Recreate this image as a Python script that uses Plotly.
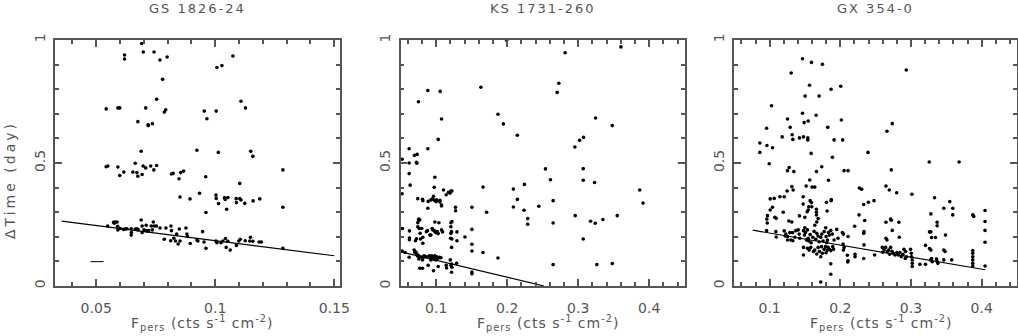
import plotly.graph_objects as go
from plotly.subplots import make_subplots

# ---- GS 1826-24 ----
gs_x = [0.0691, 0.0698, 0.0743, 0.0619, 0.0619, 0.0768, 0.0798, 0.1074, 0.1007, 0.1028,
        0.0779, 0.0754, 0.1108, 0.0542, 0.0591, 0.0599, 0.0708, 0.0792, 0.0786, 0.0954,
        0.1004, 0.1127, 0.0965, 0.0675, 0.0718, 0.0719, 0.0736, 0.0689, 0.0923, 0.1013,
        0.1149, 0.1158,
        0.0542, 0.0549, 0.0591, 0.0599, 0.0616, 0.0654, 0.0664, 0.0671, 0.0675, 0.0693,
        0.0697, 0.0708, 0.0729, 0.0742, 0.0754, 0.0816, 0.0823, 0.0848, 0.0855, 0.0867,
        0.0960, 0.1103, 0.1284,
        0.0852, 0.0894, 0.0934, 0.0961, 0.1003, 0.1004, 0.1014, 0.1039, 0.1042, 0.1053,
        0.1048, 0.1088, 0.1089, 0.1103, 0.1108, 0.1124, 0.1159, 0.1187, 0.1284,
        0.0573, 0.0580, 0.0588, 0.0548, 0.0576, 0.0590, 0.0591, 0.0601, 0.0615, 0.0622,
        0.0629, 0.0647, 0.0648, 0.0647, 0.0664, 0.0671, 0.0676, 0.0689, 0.0693, 0.0693,
        0.0701, 0.0710, 0.0712, 0.0721, 0.0731, 0.0736, 0.0740, 0.0743, 0.0753, 0.0768,
        0.0786, 0.0793, 0.0814, 0.0816, 0.0813, 0.0826, 0.0833, 0.0838, 0.0844, 0.0849,
        0.0852, 0.0877, 0.0881, 0.0883, 0.0895, 0.0923, 0.0927, 0.0947, 0.0953, 0.0961,
        0.1003, 0.1007, 0.1024, 0.1032, 0.1043, 0.1046, 0.1053, 0.1063, 0.1089, 0.1099,
        0.1105, 0.1126, 0.1145, 0.1148, 0.1158, 0.1184, 0.1194, 0.1284]
gs_y = [0.986, 0.951, 0.951, 0.939, 0.923, 0.919, 0.931, 0.935, 0.888, 0.896,
        0.840, 0.759, 0.751, 0.720, 0.724, 0.724, 0.724, 0.716, 0.707, 0.711,
        0.711, 0.724, 0.680, 0.668, 0.655, 0.652, 0.660, 0.548, 0.552, 0.543,
        0.548, 0.527,
        0.485, 0.488, 0.484, 0.449, 0.463, 0.463, 0.499, 0.461, 0.446, 0.453,
        0.488, 0.480, 0.488, 0.472, 0.490, 0.455, 0.458, 0.436, 0.461, 0.467,
        0.444, 0.417, 0.472,
        0.362, 0.354, 0.377, 0.299, 0.370, 0.356, 0.335, 0.359, 0.352, 0.360,
        0.312, 0.355, 0.339, 0.355, 0.350, 0.336, 0.346, 0.354, 0.320,
        0.259, 0.260, 0.260, 0.244, 0.255, 0.243, 0.228, 0.234, 0.230, 0.232,
        0.233, 0.233, 0.217, 0.207, 0.232, 0.233, 0.228, 0.268, 0.244, 0.217,
        0.228, 0.247, 0.224, 0.225, 0.244, 0.228, 0.260, 0.244, 0.244, 0.236,
        0.190, 0.236, 0.244, 0.225, 0.184, 0.194, 0.183, 0.211, 0.171, 0.232,
        0.183, 0.236, 0.211, 0.201, 0.173, 0.187, 0.183, 0.221, 0.179, 0.153,
        0.183, 0.176, 0.176, 0.183, 0.193, 0.157, 0.182, 0.146, 0.165, 0.183,
        0.190, 0.184, 0.183, 0.198, 0.182, 0.179, 0.179, 0.153]
gs_fit_x = [0.0355, 0.150]
gs_fit_y = [0.264, 0.123]
gs_err_x = [0.0476, 0.0531]
gs_err_y = [0.099, 0.099]

# ---- KS 1731-260 ----
ks_x = [0.1993, 0.2816, 0.3602, 0.0882, 0.1056, 0.1630, 0.2727, 0.2704, 0.0750, 0.1075,
        0.1870, 0.1946, 0.3245, 0.3480, 0.2143, 0.1028, 0.3075, 0.3019, 0.2953, 0.0619,
        0.0882, 0.0520, 0.0694, 0.0732, 0.0619, 0.0722, 0.0727,
        0.0619, 0.0520, 0.0633, 0.0981, 0.0972, 0.0741, 0.0807, 0.0812, 0.0882, 0.0887,
        0.0925, 0.0948, 0.0962, 0.0976, 0.1000, 0.1005, 0.1052, 0.1052, 0.1075, 0.1075,
        0.1103, 0.1141, 0.1174, 0.1193, 0.1207, 0.1221, 0.1273, 0.1273, 0.1503, 0.1659,
        0.1710,
        0.0525, 0.0520, 0.0623, 0.0623, 0.0623, 0.0619, 0.0708, 0.0722, 0.0741, 0.0750,
        0.0755, 0.0769, 0.0741, 0.0760, 0.0774, 0.0779, 0.0797, 0.0812, 0.0812, 0.0863,
        0.0878, 0.0911, 0.0925, 0.0943, 0.0953, 0.0976, 0.0981, 0.0986, 0.0995, 0.1014,
        0.1028, 0.1038, 0.1075, 0.1089, 0.1207, 0.1221, 0.1207, 0.1216, 0.1207, 0.1202,
        0.1221, 0.1292, 0.1292, 0.1216, 0.1405, 0.1503, 0.1503, 0.1503, 0.1659, 0.1870,
        0.0562, 0.0689, 0.0699, 0.0713, 0.0727, 0.0736, 0.0746, 0.0755, 0.0765, 0.0769,
        0.0793, 0.0807, 0.0807, 0.0821, 0.0830, 0.0863, 0.0887, 0.0901, 0.0915, 0.0925,
        0.0939, 0.0948, 0.0958, 0.0962, 0.0972, 0.0981, 0.0991, 0.1000, 0.1009, 0.1023,
        0.1028, 0.1047, 0.1066, 0.1141, 0.1146, 0.1198, 0.1207, 0.1216, 0.1221, 0.1216,
        0.1287, 0.1503, 0.1503,
        0.2539, 0.2609, 0.3071, 0.3071, 0.3231, 0.2242, 0.2087, 0.2143, 0.2087, 0.2238,
        0.2289, 0.2289, 0.2445, 0.2647, 0.2647, 0.2958, 0.3174, 0.3240, 0.3348, 0.3550,
        0.3071, 0.3866, 0.3913, 0.2647, 0.3263, 0.3480]
ks_y = [0.998, 0.948, 0.972, 0.795, 0.791, 0.808, 0.824, 0.787, 0.749, 0.679,
        0.698, 0.659, 0.683, 0.652, 0.613, 0.596, 0.604, 0.592, 0.565, 0.558,
        0.558, 0.515, 0.531, 0.535, 0.500, 0.503, 0.499,
        0.457, 0.375, 0.410, 0.442, 0.401, 0.355, 0.352, 0.347, 0.316, 0.344,
        0.350, 0.354, 0.365, 0.348, 0.343, 0.350, 0.348, 0.341, 0.329, 0.325,
        0.390, 0.371, 0.381, 0.377, 0.386, 0.386, 0.320, 0.306, 0.320, 0.402,
        0.300,
        0.234, 0.142, 0.224, 0.195, 0.188, 0.117, 0.184, 0.192, 0.257, 0.268,
        0.272, 0.268, 0.241, 0.234, 0.214, 0.191, 0.234, 0.198, 0.174, 0.221,
        0.225, 0.207, 0.207, 0.234, 0.228, 0.224, 0.260, 0.221, 0.217, 0.221,
        0.213, 0.257, 0.228, 0.220, 0.257, 0.262, 0.241, 0.221, 0.214, 0.194,
        0.191, 0.220, 0.184, 0.157, 0.199, 0.230, 0.170, 0.142, 0.136, 0.114,
        0.136, 0.146, 0.136, 0.138, 0.130, 0.122, 0.125, 0.110, 0.119, 0.072,
        0.118, 0.106, 0.072, 0.117, 0.123, 0.119, 0.084, 0.123, 0.114, 0.106,
        0.123, 0.112, 0.119, 0.062, 0.108, 0.123, 0.114, 0.106, 0.119, 0.112,
        0.079, 0.117, 0.115, 0.084, 0.073, 0.106, 0.084, 0.089, 0.076, 0.056,
        0.092, 0.057, 0.050,
        0.476, 0.432, 0.477, 0.430, 0.421, 0.413, 0.394, 0.352, 0.321, 0.308,
        0.274, 0.251, 0.324, 0.347, 0.256, 0.286, 0.263, 0.255, 0.270, 0.286,
        0.191, 0.390, 0.337, 0.087, 0.087, 0.091]
ks_fit_x = [0.050, 0.252]
ks_fit_y = [0.139, 0.0]

# ---- GX 354-0 ----
gx_x = [0.1465, 0.1592, 0.1747, 0.2933, 0.1305, 0.1564, 0.1869, 0.2006, 0.1502, 0.1700,
        0.1027, 0.1465, 0.1658, 0.1253, 0.1545, 0.1488, 0.2015, 0.2735, 0.0957, 0.1291,
        0.1822, 0.2660, 0.1319, 0.1178, 0.1328, 0.1422, 0.1479, 0.1540, 0.1540, 0.1912,
        0.2034, 0.0862, 0.0961, 0.1041, 0.0862, 0.1587, 0.2392, 0.1888, 0.0994, 0.3258,
        0.3681,
        0.1277, 0.1253, 0.1342, 0.1662, 0.1737, 0.1568, 0.2053, 0.2110, 0.2721, 0.1832,
        0.1314, 0.1333, 0.1248, 0.1206, 0.1145, 0.1065, 0.1008, 0.1517, 0.1601, 0.1639,
        0.1474, 0.1573, 0.1592, 0.1474, 0.1554, 0.1596, 0.1662, 0.1662, 0.1662, 0.1804,
        0.1874, 0.1870, 0.1813, 0.1531, 0.1545, 0.1041, 0.1008, 0.1192, 0.0970, 0.0961,
        0.1074, 0.1093, 0.0966, 0.1272, 0.1314, 0.1422, 0.1498, 0.1498, 0.1639, 0.1667,
        0.1686, 0.2269, 0.2302, 0.2397, 0.2331, 0.2477, 0.2345, 0.2265, 0.2203, 0.2335,
        0.2331, 0.2646, 0.2693, 0.2797, 0.3013, 0.3333, 0.3281, 0.3549, 0.3464, 0.3591,
        0.3591, 0.2712, 0.2721, 0.2646, 0.2829, 0.2735, 0.3370, 0.3370, 0.3262, 0.3281,
        0.3291, 0.3488, 0.2834, 0.3874, 0.3888, 0.4048, 0.4048, 0.4048, 0.4048, 0.4048,
        0.3206, 0.3262, 0.3281, 0.3483, 0.3464, 0.3874, 0.3874, 0.3874, 0.3874, 0.3874,
        0.3874, 0.2646, 0.2660, 0.3347,
        0.0957, 0.1088, 0.1093, 0.1206, 0.1220, 0.1230, 0.1253, 0.1253, 0.1286, 0.1300,
        0.1324, 0.1328, 0.1356, 0.1370, 0.1404, 0.1418, 0.1427, 0.1479, 0.1493, 0.1507,
        0.1521, 0.1535, 0.1545, 0.1554, 0.1573, 0.1587, 0.1611, 0.1629, 0.1653, 0.1667,
        0.1686, 0.1700, 0.1724, 0.1738, 0.1756, 0.1771, 0.1794, 0.1799, 0.1808, 0.1818,
        0.1832, 0.1846, 0.1865, 0.1888, 0.1912, 0.1949, 0.1968, 0.2029, 0.2044, 0.2110,
        0.1479, 0.1479, 0.1535, 0.1559, 0.1582, 0.1620, 0.1639, 0.1667, 0.1686, 0.1705,
        0.1724, 0.1733, 0.1747, 0.1771, 0.1790, 0.1799, 0.1818, 0.1827, 0.1846, 0.1865,
        0.1865, 0.1865, 0.1893, 0.1903, 0.1724, 0.2039, 0.2044, 0.2053, 0.2100, 0.2110,
        0.2105, 0.2208, 0.2208, 0.2331, 0.2335, 0.2486, 0.2594, 0.2618, 0.2599, 0.2641,
        0.2665, 0.2684, 0.2698, 0.2712, 0.2731, 0.2750, 0.2773, 0.2801, 0.2820, 0.2844,
        0.2862, 0.2886, 0.2900, 0.2919, 0.2924, 0.2938, 0.2994, 0.3004, 0.3008, 0.3018,
        0.3018, 0.3018, 0.3126, 0.3206, 0.3276, 0.3291, 0.3300, 0.3361, 0.3370, 0.3380,
        0.3464, 0.3577]
gx_y = [0.924, 0.909, 0.901, 0.878, 0.866, 0.816, 0.800, 0.812, 0.772, 0.772,
        0.733, 0.702, 0.694, 0.679, 0.671, 0.664, 0.675, 0.660, 0.641, 0.645,
        0.645, 0.629, 0.615, 0.606, 0.596, 0.602, 0.606, 0.602, 0.594, 0.594,
        0.594, 0.581, 0.571, 0.562, 0.543, 0.539, 0.543, 0.523, 0.497, 0.504,
        0.504,
        0.482, 0.469, 0.465, 0.465, 0.485, 0.431, 0.469, 0.469, 0.472, 0.430,
        0.404, 0.390, 0.386, 0.363, 0.363, 0.356, 0.354, 0.406, 0.402, 0.402,
        0.363, 0.347, 0.339, 0.333, 0.322, 0.322, 0.312, 0.300, 0.289, 0.340,
        0.351, 0.347, 0.305, 0.302, 0.309, 0.320, 0.309, 0.300, 0.286, 0.272,
        0.279, 0.275, 0.256, 0.264, 0.260, 0.285, 0.279, 0.237, 0.247, 0.260,
        0.274, 0.398, 0.393, 0.340, 0.331, 0.347, 0.266, 0.289, 0.243, 0.221,
        0.214, 0.406, 0.390, 0.379, 0.373, 0.359, 0.293, 0.343, 0.316, 0.316,
        0.289, 0.272, 0.267, 0.259, 0.259, 0.226, 0.259, 0.245, 0.220, 0.220,
        0.197, 0.207, 0.198, 0.289, 0.283, 0.307, 0.262, 0.226, 0.178, 0.081,
        0.165, 0.152, 0.146, 0.140, 0.146, 0.144, 0.133, 0.119, 0.106, 0.092,
        0.081, 0.194, 0.187, 0.197,
        0.225, 0.221, 0.199, 0.224, 0.203, 0.211, 0.201, 0.187, 0.217, 0.187,
        0.217, 0.184, 0.198, 0.225, 0.228, 0.211, 0.194, 0.225, 0.207, 0.217,
        0.187, 0.228, 0.194, 0.183, 0.209, 0.176, 0.198, 0.222, 0.190, 0.214,
        0.203, 0.180, 0.198, 0.211, 0.183, 0.221, 0.237, 0.201, 0.176, 0.187,
        0.217, 0.207, 0.226, 0.211, 0.187, 0.230, 0.194, 0.217, 0.211, 0.201,
        0.157, 0.126, 0.153, 0.146, 0.157, 0.140, 0.146, 0.130, 0.157, 0.140,
        0.119, 0.160, 0.133, 0.149, 0.160, 0.135, 0.146, 0.157, 0.149, 0.144,
        0.090, 0.048, 0.160, 0.149, 0.016, 0.171, 0.146, 0.157, 0.125, 0.102,
        0.098, 0.129, 0.119, 0.112, 0.167, 0.126, 0.157, 0.146, 0.137, 0.157,
        0.140, 0.146, 0.129, 0.157, 0.141, 0.133, 0.126, 0.136, 0.126, 0.136,
        0.119, 0.129, 0.149, 0.112, 0.140, 0.119, 0.149, 0.133, 0.119, 0.106,
        0.092, 0.079, 0.088, 0.088, 0.106, 0.112, 0.099, 0.110, 0.100, 0.092,
        0.106, 0.106]
gx_fit_x = [0.076, 0.405]
gx_fit_y = [0.227, 0.066]

# labelled (major) ticks
gs_ticks = [0.05, 0.10, 0.15]
gs_ticktext = ["0.05", "0.1", "0.15"]
wide_ticks = [0.1, 0.2, 0.3, 0.4]
wide_ticktext = ["0.1", "0.2", "0.3", "0.4"]
y_ticks = [0.0, 0.5, 1.0]
y_ticktext = ["0", "0.5", "1"]

names = ["GS 1826-24", "KS 1731-260", "GX 354-0"]
W, H = 1018, 336
axcol = "#555555"
txtcol = "#555555"
fnt = "DejaVu Sans"

fig = make_subplots(rows=1, cols=3)

xdom = [[55 / W, 340 / W], [400.7 / W, 684.7 / W], [734.3 / W, 1017 / W]]
ydom = [1 - 286 / H, 1 - 40 / H]
xranges = [[0.0327, 0.1524], [0.05, 0.45], [0.05, 0.45]]
xtv = [gs_ticks, wide_ticks, wide_ticks]
xtt = [gs_ticktext, wide_ticktext, wide_ticktext]
xminor = [0.01, 0.02, 0.02]

panels = [(gs_x, gs_y, gs_fit_x, gs_fit_y), (ks_x, ks_y, ks_fit_x, ks_fit_y),
          (gx_x, gx_y, gx_fit_x, gx_fit_y)]
for i, (px_, py_, fx, fy) in enumerate(panels):
    fig.add_trace(go.Scatter(x=px_, y=py_, mode="markers",
                             marker=dict(color="black", size=3.6, symbol="circle"),
                             showlegend=False), row=1, col=i + 1)
    fig.add_trace(go.Scatter(x=fx, y=fy, mode="lines", line=dict(color="black", width=1.2),
                             showlegend=False), row=1, col=i + 1)
fig.add_trace(go.Scatter(x=gs_err_x, y=gs_err_y, mode="lines", line=dict(color="black", width=1),
                         showlegend=False), row=1, col=1)

for i in range(3):
    fig.update_xaxes(domain=xdom[i], range=xranges[i], tickmode="array",
                     tickvals=xtv[i], ticktext=xtt[i], automargin=False,
                     showline=True, linecolor=axcol, linewidth=1.5, mirror="allticks",
                     ticks="inside", ticklen=7, tickcolor=axcol, tickwidth=1.5,
                     minor=dict(tickmode="linear", tick0=0, dtick=xminor[i], ticks="inside",
                                ticklen=4, tickcolor=axcol, tickwidth=1.5),
                     showgrid=False, zeroline=False, ticklabelstandoff=8,
                     tickfont=dict(family=fnt, size=14, color=txtcol),
                     row=1, col=i + 1)
    fig.update_yaxes(domain=ydom, range=[0, 1], tickmode="array",
                     tickvals=y_ticks, ticktext=y_ticktext, automargin=False,
                     showline=True, linecolor=axcol, linewidth=1.5, mirror="allticks",
                     ticks="inside", ticklen=7, tickcolor=axcol, tickwidth=1.5,
                     minor=dict(tickmode="linear", tick0=0, dtick=0.1, ticks="inside",
                                ticklen=4, tickcolor=axcol, tickwidth=1.5),
                     showgrid=False, zeroline=False, tickangle=-90, ticklabelstandoff=3,
                     tickfont=dict(family=fnt, size=14, color=txtcol),
                     row=1, col=i + 1)

annos = []
for i in range(3):
    cx = (xdom[i][0] + xdom[i][1]) / 2
    annos.append(dict(x=cx, y=1 - 8 / H, xref="paper", yref="paper", showarrow=False,
                      xanchor="center", yanchor="middle",
                      text='<span style="letter-spacing:2px">' + names[i] + '</span>',
                      font=dict(family=fnt, size=13, color=txtcol)))
    annos.append(dict(x=cx + 5 / W, y=1 - 323 / H, xref="paper", yref="paper", showarrow=False,
                      xanchor="center", yanchor="middle",
                      text='<span style="letter-spacing:1px">F<sub>pers</sub> (cts s<sup>-1</sup> cm<sup>-2</sup>)</span>',
                      font=dict(family=fnt, size=14, color=txtcol)))
annos.append(dict(x=10 / W, y=1 - 180 / H, xref="paper", yref="paper", showarrow=False,
                  xanchor="center", yanchor="middle", textangle=-90,
                  text='<span style="letter-spacing:3px">\u0394Time (day)</span>',
                  font=dict(family=fnt, size=14, color=txtcol)))

fig.update_layout(width=W, height=H, margin=dict(l=0, r=0, t=0, b=0),
                  paper_bgcolor="white", plot_bgcolor="white", annotations=annos)

fig.write_html("out.html", config={"displayModeBar": False},
               post_script="document.body.style.margin='0px';")
